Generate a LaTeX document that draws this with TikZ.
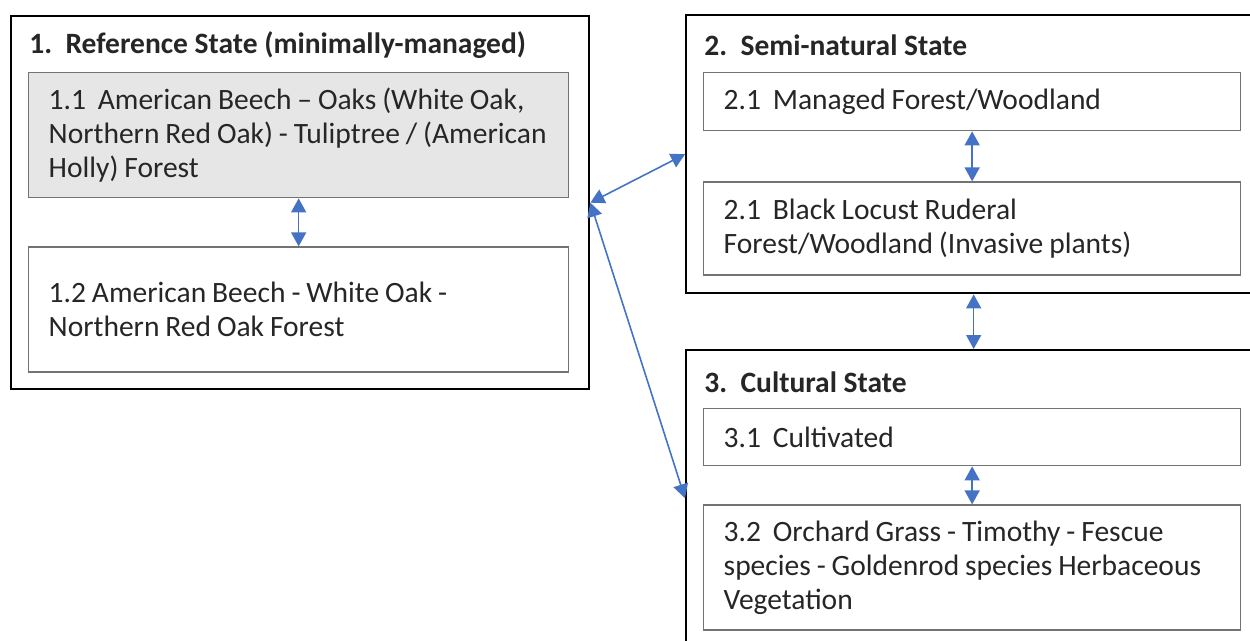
\documentclass[tikz,border=0pt]{standalone}
\usepackage{fontspec}
\setmainfont{Carlito}
\usepackage{xcolor}
\usepackage{tikz}
\usetikzlibrary{arrows.meta,positioning}

\definecolor{linkblue}{HTML}{4472C4}
\definecolor{subgray}{HTML}{E6E6E6}
\definecolor{txtgray}{HTML}{262626}

\begin{document}
\begin{tikzpicture}[
      x=0.02cm, y=-0.02cm,
      font=\fontsize{16.8}{19.5}\selectfont, text=txtgray,
      outer/.style={draw=black, line width=1.4pt, inner sep=0pt, anchor=north west},
      sub/.style={draw=black!55, line width=0.8pt, anchor=north west, align=left,
                  text width=10cm, inner xsep=0.4cm, minimum width=10.8cm,
                  execute at begin node={\spaceskip=0.2em\relax\hyphenpenalty=10000\relax}},
      head/.style={anchor=west, inner sep=0pt, font=\fontsize{16.8}{20}\selectfont\bfseries},
      arr/.style={{Triangle[length=0.28cm,width=0.3cm]}-{Triangle[length=0.28cm,width=0.3cm]},
                  draw=linkblue, fill=linkblue, line width=0.9pt}
    ]
    \clip (0,0) rectangle (1250,641);
    \fill[white] (0,0) rectangle (1250,641);

    % state frames
    \node[outer, minimum width=11.56cm, minimum height=7.46cm] (o1) at (10,15) {};
    \node[outer, minimum width=11.5cm, minimum height=5.56cm] (o2) at (685,14) {};
    \node[outer, minimum width=11.5cm, minimum height=5.92cm] (o3) at (685,349) {};

    \node[head] (t1) at (29,45) {1.\ \ Reference State (minimally-managed)};
    \node[head] (t2) at (704,45) {2.\ \ Semi-natural State};
    \node[head] (t3) at (704,382) {3.\ \ Cultural State};

    % phases
    \node[sub, fill=subgray, minimum height=2.5cm] (s11) at (28,72)
      {1.1~ American Beech -- Oaks (White Oak,\\Northern Red Oak) - Tuliptree / (American\\Holly) Forest};
    \node[sub, minimum height=2.5cm, below=0.96cm of s11] (s12)
      {1.2 American Beech - White Oak -\\Northern Red Oak Forest};
    \node[sub, text width=9.94cm, minimum width=10.74cm, minimum height=1.16cm] (s21) at (703,72)
      {2.1~ Managed Forest/Woodland};
    \node[sub, text width=9.94cm, minimum width=10.74cm, minimum height=1.86cm, below=1cm of s21] (s22)
      {2.1~ Black Locust Ruderal\\Forest/Woodland (Invasive plants)};
    \node[sub, text width=9.94cm, minimum width=10.74cm, minimum height=1.14cm] (s31) at (703,408)
      {3.1~ Cultivated};
    \node[sub, text width=9.94cm, minimum width=10.74cm, minimum height=2.5cm, below=0.76cm of s31] (s32)
      {3.2~ Orchard Grass - Timothy - Fescue\\species - Goldenrod species Herbaceous\\Vegetation};

    \draw[arr] (s11) -- (s12);
    \draw[arr] (s21) -- (s22);
    \draw[arr] (s31) -- (s32);
    \draw[arr] (o2.south) -- (o3.north);
    \draw[arr] (o1.east) -- (o2.west);
    \draw[arr] (o1.east) -- (o3.west);
  \end{tikzpicture}
\end{document}
